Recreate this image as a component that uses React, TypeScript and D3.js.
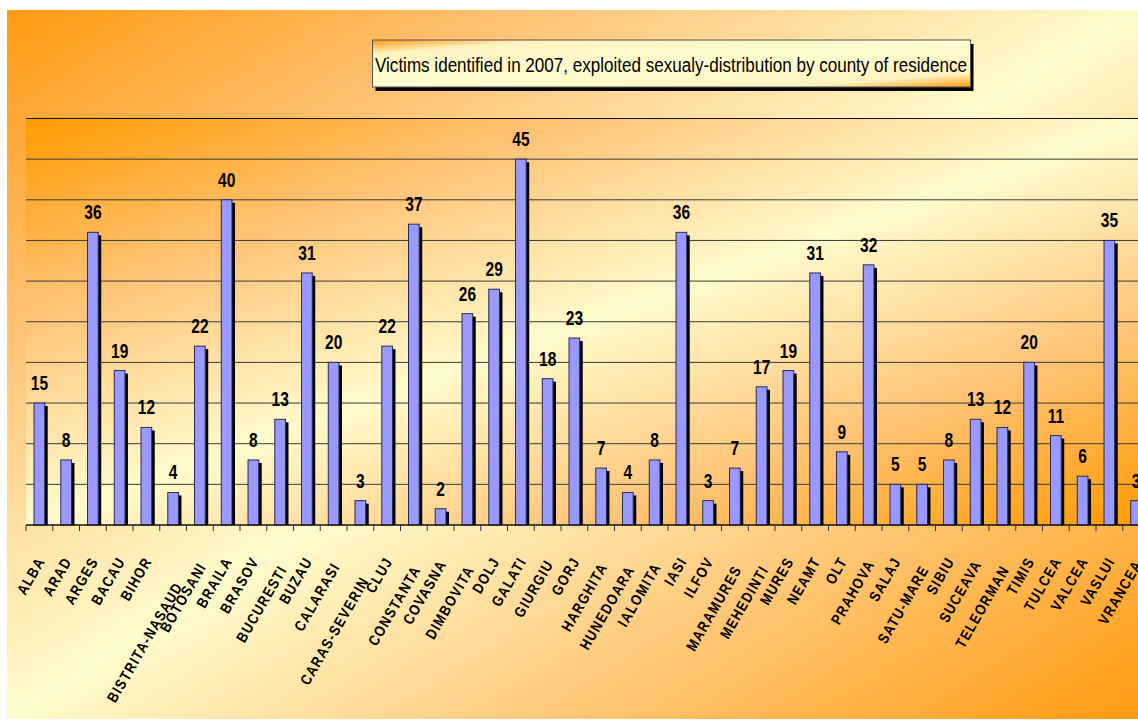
import React from "react";
import * as d3 from "d3";

const categories = ["ALBA","ARAD","ARGES","BACAU","BIHOR","BISTRITA-NASAUD","BOTOSANI","BRAILA","BRASOV","BUCURESTI","BUZAU","CALARASI","CARAS-SEVERIN","CLUJ","CONSTANTA","COVASNA","DIMBOVITA","DOLJ","GALATI","GIURGIU","GORJ","HARGHITA","HUNEDOARA","IALOMITA","IASI","ILFOV","MARAMURES","MEHEDINTI","MURES","NEAMT","OLT","PRAHOVA","SALAJ","SATU-MARE","SIBIU","SUCEAVA","TELEORMAN","TIMIS","TULCEA","VALCEA","VASLUI","VRANCEA"];
const victims = [15,8,36,19,12,4,22,40,8,13,31,20,3,22,37,2,26,29,45,18,23,7,4,8,36,3,7,17,19,31,9,32,5,5,8,13,12,20,11,6,35,3];
const yTicks = [0,5,10,15,20,25,30,35,40,45,50];
const title = "Victims identified in 2007, exploited sexualy-distribution by county of residence";

const W = 1138, H = 723;
const plotL = 26, plotT = 118.5, plotB = 525;
const step = 26.75;
const plotR = plotL + step * categories.length;

export default function App() {
  const x = d3.scaleBand<string>().domain(categories).range([plotL, plotR]).padding(0);
  const y = d3.scaleLinear().domain([0, 50]).range([plotB, plotT]);
  const bw = 10.7;
  const bo = (x.bandwidth() - bw) / 2;
  return (
    <div style={{ position: "absolute", left: 0, top: 0 }}>
      <svg width={W} height={H} style={{ display: "block" }}>
        <defs>
          <linearGradient id="outerG" x1="0" y1="0" x2="1" y2="1">
            <stop offset="0" stopColor="#FF9A10" />
            <stop offset="0.22" stopColor="#FFC070" />
            <stop offset="0.5" stopColor="#FFFBCC" />
            <stop offset="0.72" stopColor="#FFCC80" />
            <stop offset="1" stopColor="#FF9A10" />
          </linearGradient>
          <linearGradient id="plotG" x1="0" y1="0" x2="1" y2="1">
            <stop offset="0" stopColor="#FF9A00" />
            <stop offset="0.25" stopColor="#FFC478" />
            <stop offset="0.5" stopColor="#FFFBCC" />
            <stop offset="0.75" stopColor="#FFC478" />
            <stop offset="1" stopColor="#FF9A00" />
          </linearGradient>
          <linearGradient id="titleG" x1="0" y1="0" x2="1" y2="1">
            <stop offset="0" stopColor="#FF9A10" />
            <stop offset="0.15" stopColor="#FFF3C0" />
            <stop offset="0.5" stopColor="#FFFCD0" />
            <stop offset="0.85" stopColor="#FFF3C0" />
            <stop offset="1" stopColor="#FF9A10" />
          </linearGradient>
          <clipPath id="clipAll">
            <rect x={7} y={10} width={W - 7} height={709} />
          </clipPath>
        </defs>
        <rect x={0} y={0} width={W} height={H} fill="#ffffff" />
        <g clipPath="url(#clipAll)">
          <rect x={7} y={10} width={W - 7} height={709} fill="url(#outerG)" />
          <rect x={plotL} y={plotT} width={plotR - plotL} height={plotB - plotT} fill="url(#plotG)" />
          {yTicks.map((t) => (
            <line key={t} x1={plotL} x2={plotR} y1={y(t)} y2={y(t)} stroke={t === 50 ? "#111" : "#3a3a3a"} strokeWidth={1} />
          ))}
          {categories.map((c, i) => {
            const v = victims[i];
            const bx = (x(c) as number) + bo;
            const by = y(v);
            return (
              <g key={c}>
                <rect x={bx + 3} y={by + 3} width={bw} height={plotB - by - 3} fill="#000" />
                <rect x={bx} y={by} width={bw} height={plotB - by} fill="#9999FF" stroke="#2a2a55" strokeWidth={1} />
                <text
                  transform={`translate(${bx + bw / 2},${by - 13}) scale(0.74,1)`}
                  textAnchor="middle"
                  fontFamily="'Liberation Sans', Arial, sans-serif"
                  fontWeight="bold"
                  fontSize={21}
                  fill="#000"
                >
                  {v}
                </text>
              </g>
            );
          })}
          <line x1={plotL} x2={plotR} y1={plotB} y2={plotB} stroke="#000" strokeWidth={1.2} />
          {d3.range(categories.length + 1).map((i) => (
            <line key={i} x1={plotL + i * step} x2={plotL + i * step} y1={plotB} y2={plotB + 6} stroke="#333" />
          ))}
          {categories.map((c) => {
            const cx = (x(c) as number) + x.bandwidth() / 2;
            const extra = Math.max(0, c.length - 6);
            const ax = cx + 6 + extra * 0.45;
            const ay = 561 + extra * 2.8;
            return (
              <text
                key={c}
                transform={`translate(${ax},${ay}) rotate(-60) scale(0.85,1)`}
                textAnchor="end"
                fontFamily="'Liberation Sans', Arial, sans-serif"
                fontWeight="bold"
                fontSize={15}
                letterSpacing={1.5}
                fill="#000"
              >
                {c}
              </text>
            );
          })}
          <rect x={375.5} y={44} width={598} height={47} fill="#000" />
          <rect x={372.5} y={40} width={598} height={47} fill="url(#titleG)" stroke="#555" strokeWidth={1} />
          <text
            x={375}
            y={71.5}
            textLength={592}
            lengthAdjust="spacingAndGlyphs"
            fontFamily="'Liberation Sans', Arial, sans-serif"
            fontSize={20}
            fill="#000"
          >
            {title}
          </text>
        </g>
      </svg>
    </div>
  );
}
